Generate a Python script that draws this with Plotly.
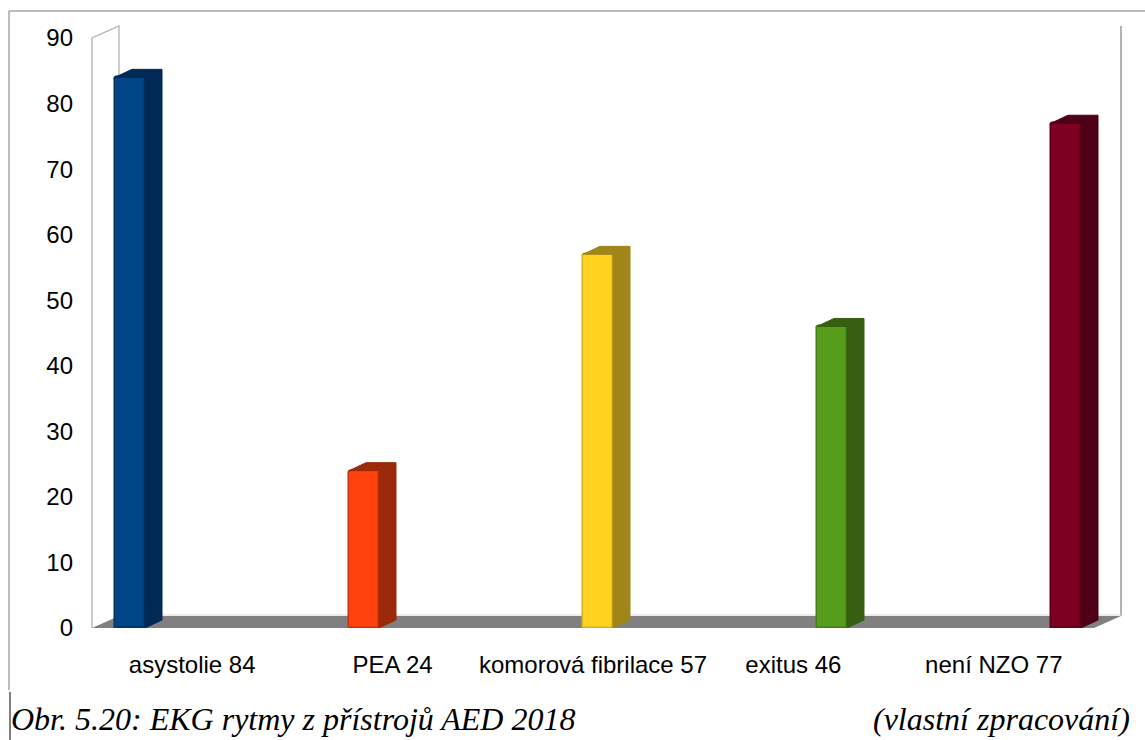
import plotly.graph_objects as go

# --- data -----------------------------------------------------------------
categories = ["asystolie 84", "PEA 24", "komorová fibrilace 57", "exitus 46", "není NZO 77"]
values = [84, 24, 57, 46, 77]
front_colors = ["#004586", "#ff420e", "#ffd320", "#579d1c", "#7e0021"]
side_colors = ["#002a55", "#9c2a09", "#a08618", "#365f12", "#4e0016"]
edge_colors = ["#003366", "#c8330a", "#d8b018", "#467e16", "#5e0018"]
y_ticks = [0, 10, 20, 30, 40, 50, 60, 70, 80, 90]
caption_left = "Obr. 5.20: EKG rytmy z přístrojů AED 2018"
caption_right = "(vlastní zpracování)"

# --- page geometry (pixels) ------------------------------------------------
W, H = 1145, 740
FRONT_L, FRONT_R = 92, 1094          # front edge of the floor
DEPTH_X, DEPTH_Y = 27, 12            # offset of the back wall
Y0_PX, Y90_PX = 628, 38              # pixel rows of 0 and 90 on the front plane
PPU = (Y0_PX - Y90_PX) / 90.0        # pixels per value unit
CAT_STEP = (FRONT_R - FRONT_L) / len(categories)
BAR_STEP, BAR_C0, BAR_W_PX = 234, 130, 30   # bar spacing, first bar centre, face width
BAR_DX_PX, BAR_DY_PX = 17, 8                 # bar depth

def fx(px):
    return px / W

def fy(py):
    return 1 - py / H

plot_l, plot_r = FRONT_L, FRONT_R + DEPTH_X
plot_t = Y90_PX - DEPTH_Y
y_top = (Y0_PX - plot_t) / PPU

x_lab_range = [-0.5, -0.5 + (plot_r - plot_l) / CAT_STEP]
x_bar_lo = -(BAR_C0 - plot_l) / BAR_STEP
x_bar_range = [x_bar_lo, x_bar_lo + (plot_r - plot_l) / BAR_STEP]
bar_w = BAR_W_PX / BAR_STEP
bar_dx = BAR_DX_PX / BAR_STEP
bar_dy = BAR_DY_PX / PPU

fig = go.Figure()

# top + right side faces of each bar
for i, (v, c) in enumerate(zip(values, side_colors)):
    xl, xr = i - bar_w / 2, i + bar_w / 2
    xs = [xl, xl + bar_dx, xr + bar_dx, xr + bar_dx, xr, xr, xl]
    ys = [v, v + bar_dy, v + bar_dy, bar_dy, 0, v, v]
    fig.add_trace(go.Scatter(
        x=xs, y=ys, xaxis="x2", yaxis="y", mode="lines", fill="toself",
        fillcolor=c, line=dict(color=c, width=1), hoverinfo="skip",
        showlegend=False,
    ))

# front faces
fig.add_trace(go.Bar(
    x=list(range(len(values))), y=values, xaxis="x2", yaxis="y",
    width=bar_w, marker=dict(color=front_colors, cornerradius=3,
                             line=dict(color=edge_colors, width=1.5)),
    showlegend=False, hovertemplate="%{y}<extra></extra>",
))

# invisible trace to carry the category axis
fig.add_trace(go.Scatter(x=list(range(len(categories))), y=[0] * len(categories),
                         xaxis="x", yaxis="y", mode="markers",
                         marker=dict(opacity=0), hoverinfo="skip", showlegend=False))

wall = "#b3b3b3"
shapes = [
    # floor
    dict(type="path", xref="paper", yref="paper", layer="below",
         path=f"M {fx(FRONT_L)},{fy(Y0_PX)} L {fx(FRONT_R)},{fy(Y0_PX)} "
              f"L {fx(FRONT_R + DEPTH_X)},{fy(Y0_PX - DEPTH_Y)} "
              f"L {fx(FRONT_L + DEPTH_X)},{fy(Y0_PX - DEPTH_Y)} Z",
         fillcolor="#808080", line=dict(width=0)),
    # side wall outline
    dict(type="path", xref="paper", yref="paper", layer="below",
         path=f"M {fx(FRONT_L)},{fy(Y0_PX)} L {fx(FRONT_L)},{fy(Y90_PX)} "
              f"L {fx(FRONT_L + DEPTH_X)},{fy(Y90_PX - DEPTH_Y)} "
              f"L {fx(FRONT_L + DEPTH_X)},{fy(Y0_PX - DEPTH_Y)}",
         line=dict(color=wall, width=1.3)),
    # back wall right edge and bottom edge
    dict(type="line", xref="paper", yref="paper", layer="below",
         x0=fx(FRONT_R + DEPTH_X), x1=fx(FRONT_R + DEPTH_X),
         y0=fy(Y90_PX - DEPTH_Y), y1=fy(Y0_PX - DEPTH_Y),
         line=dict(color=wall, width=2)),
    dict(type="line", xref="paper", yref="paper", layer="below",
         x0=fx(FRONT_L + DEPTH_X), x1=fx(FRONT_R + DEPTH_X),
         y0=fy(Y0_PX - DEPTH_Y - 1), y1=fy(Y0_PX - DEPTH_Y - 1),
         line=dict(color="#d9d9d9", width=1)),
    # frame around the chart object
    dict(type="line", xref="paper", yref="paper", x0=fx(9), x1=1,
         y0=fy(11), y1=fy(11), line=dict(color="#a6a6a6", width=1.5)),
    dict(type="line", xref="paper", yref="paper", x0=fx(9), x1=fx(9),
         y0=fy(11), y1=fy(690), line=dict(color="#a6a6a6", width=1.5)),
    dict(type="line", xref="paper", yref="paper", x0=fx(10), x1=fx(10),
         y0=fy(692), y1=0, line=dict(color="#000000", width=1)),
]

caption_font = dict(family="Liberation Serif", size=32, color="#000000")
annotations = [
    dict(text=f"<i>{caption_left}</i>", xref="paper", yref="paper",
         x=fx(9), y=fy(719), xanchor="left", yanchor="middle",
         showarrow=False, font=caption_font),
    dict(text=f"<i>{caption_right}</i>", xref="paper", yref="paper",
         x=fx(1132), y=fy(719), xanchor="right", yanchor="middle",
         showarrow=False, font=caption_font),
]

tick_font = dict(family="Liberation Sans", size=24, color="#000000")
fig.update_layout(
    width=W, height=H, autosize=False,
    margin=dict(l=0, r=0, t=0, b=0, autoexpand=False),
    paper_bgcolor="white", plot_bgcolor="rgba(0,0,0,0)",
    xaxis=dict(domain=[fx(plot_l), fx(plot_r)], range=x_lab_range,
               tickvals=list(range(len(categories))), ticktext=categories,
               showgrid=False, zeroline=False, showline=False, ticks="",
               automargin=False, ticklabelstandoff=20, tickfont=tick_font,
               fixedrange=True),
    xaxis2=dict(domain=[fx(plot_l), fx(plot_r)], range=x_bar_range,
                overlaying="x", visible=False, fixedrange=True),
    yaxis=dict(domain=[fy(Y0_PX), fy(plot_t)], range=[0, y_top],
               tickvals=y_ticks, showgrid=False, zeroline=False,
               showline=False, ticks="", automargin=False,
               ticklabelstandoff=18, tickfont=tick_font, fixedrange=True),
    shapes=shapes, annotations=annotations, bargap=0,
)

fig.write_html("out.html")
